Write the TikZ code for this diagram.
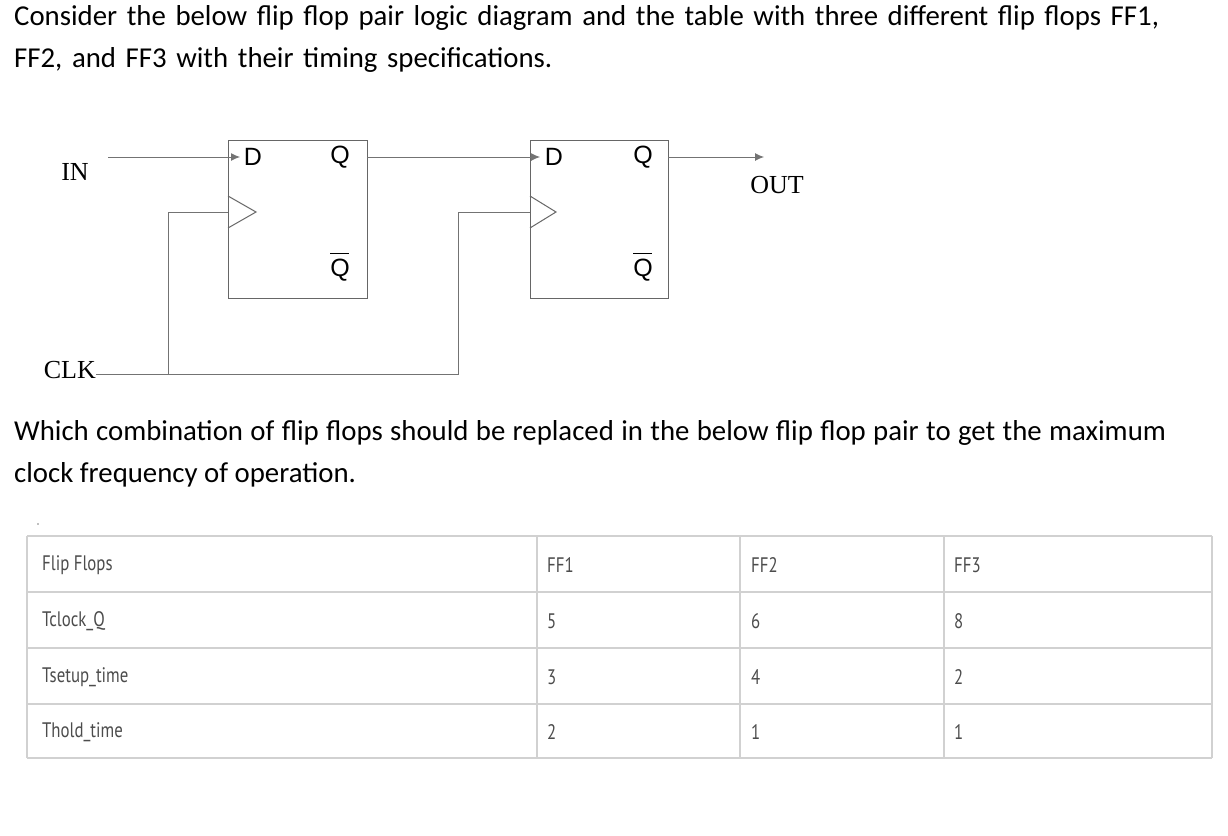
\documentclass[tikz,border=0pt]{standalone}
\usepackage{fontspec}
\setmainfont{Carlito}
\newfontfamily\serifx{Liberation Serif}
\newfontfamily\sansx{Liberation Sans}
\newfontfamily\tabf{PT Sans}
\usetikzlibrary{arrows.meta}
\newcommand{\qbar}{\leavevmode\rlap{\raisebox{0.88em}{\rule{0.75em}{0.9pt}}}Q}
\begin{document}
\begin{tikzpicture}[x=1pt,y=-1pt,
  wire/.style={draw=black!55,line width=0.9pt},
  ffbox/.style={draw=black!60,line width=1pt},
  tip/.style={-{Latex[length=9pt,width=8pt]}},
  pin/.style={font=\sansx\fontsize{25}{25}\selectfont,inner sep=0pt},
  lbl/.style={font=\serifx\fontsize{26}{26}\selectfont,inner sep=0pt},
  para/.style={font=\fontsize{28.8}{42}\selectfont,anchor=north west,inner sep=0pt,align=justify,text width=1152pt},
  grid/.style={draw=black!18,line width=1.6pt},
  cell/.style={font=\tabf\fontsize{21}{21}\selectfont,text=black!70,anchor=west,inner sep=0pt,xscale=0.8}]
\useasboundingbox (0,0) rectangle (1228,835);
% texts
\node[para,align=left] (t1) at (14,5) {Consider the below flip flop pair logic diagram and the table with three different flip flops FF1,\\ FF2, and FF3 with their timing specifications.};
\node[para] (t2) at (14,420) {Which combination of flip flops should be replaced in the below flip flop pair to get the maximum clock frequency of operation.};
% flip flops
\draw[ffbox] (228,140) rectangle (367,298);
\draw[ffbox] (530,140) rectangle (668,298);
\draw[ffbox] (228,196) -- (256,212) -- (228,228);
\draw[ffbox] (530,196) -- (556,212) -- (530,228);
\node[pin] (d1) at (253,157) {D};
\node[pin] (q1) at (340,157) {Q};
\node[pin] (nq1) at (340,267) {\qbar};
\node[pin] (d2) at (554,157) {D};
\node[pin] (q2) at (643,157) {Q};
\node[pin] (nq2) at (643,267) {\qbar};
\node[lbl] (in) at (75,172) {IN};
\node[lbl] (out) at (777,185) {OUT};
\node[lbl,anchor=east] (clk) at (96,370) {CLK};
\coordinate (a1) at (108,157); \coordinate (a2) at (240,157);
\coordinate (b1) at (367,157); \coordinate (b2) at (540,157);
\coordinate (c1) at (668,157); \coordinate (c2) at (764,157);
\draw[wire,tip] (a1) -- (a2);
\draw[wire,tip] (b1) -- (b2);
\draw[wire,tip] (c1) -- (c2);
\draw[wire] (96,374) -- (458,374) -- (458,212) -- (530,212);
\draw[wire] (168,374) -- (168,212) -- (228,212);
% table
\fill[black!50] (38,524) circle (0.9);
\foreach \y in {536,592,648,704,758} \draw[grid] (27,\y) -- (1212,\y);
\foreach \x in {27,537,740,944,1212} \draw[grid] (\x,536) -- (\x,758);
\foreach \y/\a/\b/\c/\d in {565/Flip Flops/FF1/FF2/FF3, 621/Tclock\_Q/5/6/8, 677/Tsetup\_time/3/4/2, 732/Thold\_time/2/1/1}{
  \node[cell] at (42,\y) {\a};
  \node[cell] at (547,\y) {\b};
  \node[cell] at (751,\y) {\c};
  \node[cell] at (954,\y) {\d};
}
\end{tikzpicture}
\end{document}
